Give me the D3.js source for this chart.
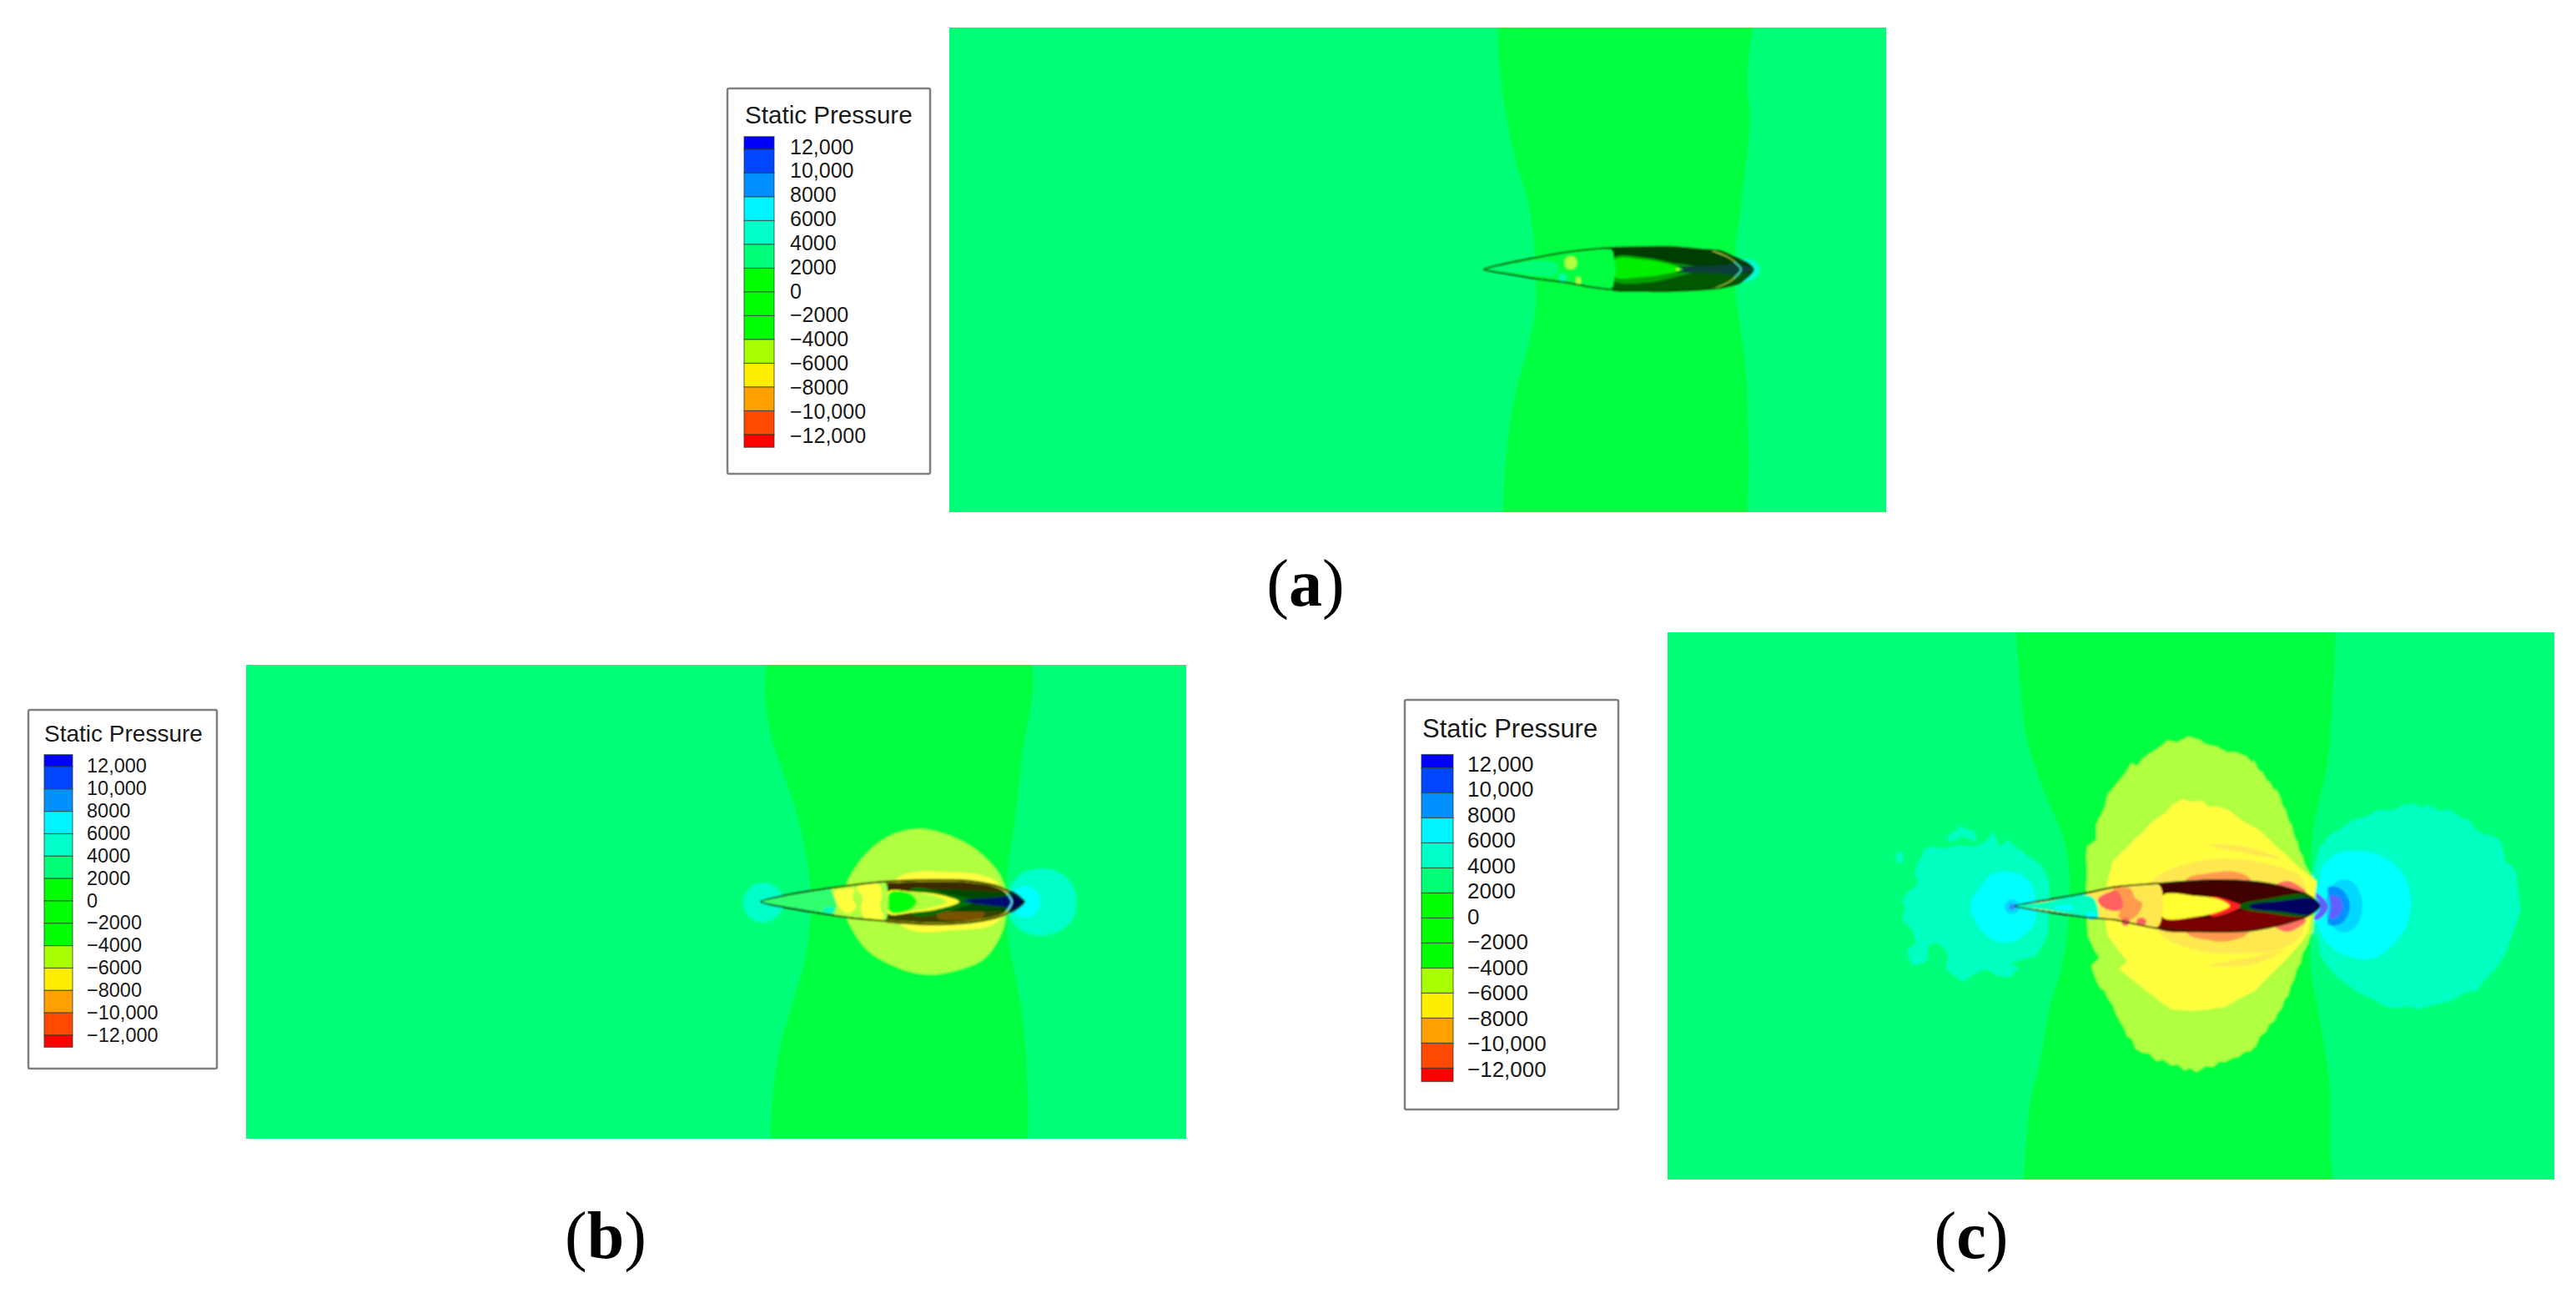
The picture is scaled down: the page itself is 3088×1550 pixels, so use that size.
<!DOCTYPE html>
<html>
<head>
<meta charset="utf-8">
<script src="https://cdn.jsdelivr.net/npm/d3@7"></script>
<style>
  html, body { margin: 0; background: #fff; }
  svg { display: block; }
</style>
</head>
<body>
<svg width="3088" height="1550"></svg>
<script>
// legend values
var legendEdges = [13070, 12000, 10000, 8000, 6000, 4000, 2000, 0, -2000, -4000, -6000, -8000, -10000, -12000, -13070];
var legendTicks = [12000, 10000, 8000, 6000, 4000, 2000, 0, -2000, -4000, -6000, -8000, -10000, -12000];
var legendLabels = ["12,000", "10,000", "8000", "6000", "4000", "2000", "0", "\u22122000", "\u22124000", "\u22126000", "\u22128000", "\u221210,000", "\u221212,000"];
var legendColors = ["#0000ff", "#0046ff", "#0090ff", "#00f4ff", "#00ffc8", "#00ff78", "#00ff00", "#00ff00", "#00ff00", "#a8ff00", "#ffee00", "#ffa000", "#ff4800", "#ff0000"];
var captions = ["a", "b", "c"];

// contour outlines: [distance behind the nose, offset from the axis]
var aBandLeft = [[16,-300],[16,-290],[20,-227],[26,-187],[37,-133],[51,-87],[59,-40],[61,0],[62,27],[61,53],[51,100],[37,150],[26,227],[23,291],[23,300]];
var aBandRight = [[322,-300],[322,-290],[317,-253],[316,-210],[319,-187],[314,-127],[306,-60],[302,-33],[301,0],[302,33],[309,80],[314,123],[317,227],[316,291],[316,300]];
var aTailGlow = [[306,-11],[320,-11],[328,-5],[331,0],[328,6],[320,13],[306,14]];
var aHull = [[0,0],[27,-7],[61,-14],[94,-20],[127,-24],[152,-26],[194,-27],[227,-27],[261,-24],[284,-22],[304,-13],[317,-7],[323,0],[317,8],[304,17],[277,23],[227,26],[194,26],[152,24],[127,21],[94,15],[61,11],[27,5]];
var aLower = [[154,10],[200,11],[240,3],[300,3],[317,7],[304,17],[277,23],[227,26],[194,26],[152,24]];
var aHalo = [[155,-14],[195,-14],[225,-8],[262,-1],[225,10],[195,16],[155,13]];
var aCavity = [[157,-12],[190,-12],[215,-8],[238,0],[215,6],[190,9],[157,9]];
var aStreak = [[225,-2],[270,-4],[305,-6],[322,0],[305,6],[270,4],[225,2]];
var aNose = [[0,0],[27,-7],[61,-14],[94,-20],[127,-24],[152,-24],[156,-12],[158,0],[156,12],[152,23],[127,20],[94,14],[61,10],[27,5]];
var aNoseCore = [[6,0],[27,-5],[61,-10],[85,-8],[89,0],[85,7],[61,7],[27,3]];
var aArcEnds = [[272,-23],[292,-15],[302,-8]];
var aArcEnds2 = [[272,24],[292,16],[302,9]];
var aArcMid = [[300,-9],[308,0],[300,10]];
var aBlobs = [[104,-8,7.5,8],[113,14,3,5.5],[94,10,5,5],[232,0,2,1]];

var bBandLeft = [[6,-295],[6,-284],[5,-246],[12,-199],[28,-152],[45,-99],[55,-52],[59,-19],[60,4],[58,34],[52,74],[38,121],[23,174],[14,234],[12,284],[12,295]];
var bBandRight = [[325,-295],[325,-284],[327,-269],[325,-242],[315,-186],[305,-99],[297,-46],[295,0],[297,48],[307,98],[315,148],[320,234],[320,284],[320,295]];
var bRound = [[195,-87],[248,-69],[282,-39],[292,-19],[295,0],[290,34],[268,68],[232,83],[197,87],[162,78],[128,58],[105,24],[98,0],[103,-22],[125,-56],[155,-79]];
var bYellow = [[162,-27],[188,-36],[215,-36],[265,-32],[285,-22],[290,-9],[292,14],[275,29],[232,34],[188,36],[168,28],[155,14]];
var bTail = [[297,-12],[312,-33],[337,-40],[362,-33],[376,-15],[378,2],[376,18],[362,33],[337,41],[312,34],[297,14]];
var bHull = [[0,0],[48,-11],[102,-19],[148,-24],[202,-26],[248,-25],[282,-19],[298,-12],[316,0],[298,13],[282,19],[248,25],[202,27],[148,23],[105,19],[48,10]];
var bRimTop = [[148,-24],[202,-26],[248,-25],[282,-19],[298,-12]];
var bRimLow = [[148,23],[202,27],[248,25],[282,19],[298,13]];
var bTopStrip = [[153,-23],[202,-26],[248,-25],[282,-19],[300,-13],[282,-12],[248,-14],[202,-15],[153,-14]];
var bLowStrip = [[153,13],[212,13],[290,13],[282,19],[248,25],[202,27],[148,23]];
var bBrown = [[212,14],[250,12],[268,13],[265,20],[230,22],[212,20]];
var bHalo = [[180,-15],[230,-8],[255,0],[230,10],[180,15]];
var bCavityRim = [[152,-12],[182,-12],[212,-9],[238,0],[212,9],[182,13],[152,14]];
var bCavity = [[155,-11],[182,-11],[208,-7],[223,0],[208,6],[182,11],[155,12]];
var bCavityCore = [[155,-11],[178,-10],[187,0],[178,10],[155,12]];
var bStreak = [[242,-1],[282,-5],[303,-5],[303,6],[282,5]];
var bTip = [[300,-13],[316,0],[300,13],[303,0]];
var bNose = [[0,0],[48,-11],[102,-19],[148,-23],[152,-10],[153,0],[152,10],[148,22],[105,18],[48,9]];
var bNoseRear = [[85,-15],[102,-19],[148,-23],[152,-10],[153,0],[152,10],[148,22],[105,18],[88,15],[92,2]];
var bPatchOne = [[88,-12],[105,-16],[112,-15],[110,-3],[115,5],[105,14],[95,8],[90,0]];
var bPatchTwo = [[115,-17],[140,-22],[145,-10],[143,5],[147,20],[125,20],[120,8],[122,-5]];
var bArcEnds = [[266,-22],[288,-16],[296,-9]];
var bArcEnds2 = [[266,23],[288,17],[296,10]];
var bArcMid = [[295,-10],[301,0],[295,11]];
var bBlobs = [[3,1,24,24],[82,10,7,4]];
var bTailCore = [[317,0,18,19]];

var cBandLeft = [[2,-340],[2,-328],[7,-261],[15,-198],[38,-131],[58,-84],[65,-48],[65,-1],[63,36],[55,79],[42,122],[30,189],[19,234],[11,328],[11,340]];
var cBandRight = [[385,-340],[385,-328],[380,-226],[375,-169],[358,-93],[355,-43],[355,1],[355,74],[365,134],[377,207],[378,284],[381,328],[381,340]];
var cLeftAqua = [[42,-26],[37,-40],[32,-49],[20,-57],[8,-66],[0,-72],[-8,-79],[-18,-71],[-22,-82],[-27,-89],[-32,-80],[-38,-76],[-48,-71],[-66,-73],[-85,-69],[-96,-71],[-108,-69],[-112,-58],[-117,-49],[-120,-39],[-116,-31],[-118,-23],[-127,-18],[-135,-6],[-131,2],[-135,17],[-127,24],[-122,31],[-118,44],[-130,54],[-123,72],[-105,67],[-103,47],[-92,44],[-80,57],[-82,77],[-72,84],[-62,91],[-48,82],[-35,76],[-20,84],[-5,86],[5,74],[-5,69],[10,64],[25,61],[33,48],[40,34]];
var cLeftIsland = [[-83,-81],[-65,-96],[-48,-89],[-45,-76],[-62,-83],[-75,-76]];
var cLeftCyan = [[-53,-1],[-38,-26],[-28,-38],[-2,-40],[18,-29],[26,1],[22,24],[-8,44],[-35,34]];
var cTailAqua = [[358,-39],[365,-69],[378,-86],[390,-92],[405,-103],[420,-107],[438,-116],[450,-114],[465,-121],[478,-123],[487,-118],[495,-121],[510,-114],[522,-116],[535,-106],[545,-103],[553,-92],[562,-86],[574,-84],[582,-79],[586,-66],[588,-53],[597,-48],[602,-39],[603,-20],[607,4],[600,26],[592,47],[588,58],[578,74],[569,84],[562,90],[555,101],[540,104],[525,113],[512,117],[498,120],[485,124],[470,120],[458,123],[445,121],[430,112],[412,104],[398,94],[385,84],[375,72],[367,61],[362,34],[345,33],[345,-33]];
var cTailCyan = [[352,-15],[365,-26],[368,-46],[388,-63],[412,-66],[438,-61],[462,-43],[475,-9],[468,27],[445,54],[425,64],[392,57],[372,41],[362,21],[352,15]];
var cTailBlue = [[376,-22],[385,-23],[395,-17],[402,0],[396,17],[386,23],[376,22],[378,0]];
var cTailViolet = [[378,-12],[388,-11],[393,0],[388,12],[378,15],[380,0]];
var cTailCrescent = [[358,-16],[365,-14],[376,1],[365,16],[358,16],[367,1]];
var cRound = [[87,-71],[98,-79],[98,-98],[108,-118],[112,-134],[118,-141],[132,-158],[140,-171],[147,-168],[155,-178],[175,-191],[183,-198],[195,-196],[208,-203],[222,-199],[228,-194],[242,-191],[255,-184],[266,-184],[278,-179],[284,-172],[287,-174],[292,-163],[297,-160],[302,-151],[306,-148],[310,-140],[314,-139],[318,-131],[321,-120],[325,-115],[328,-103],[332,-97],[335,-84],[339,-76],[341,-66],[345,-60],[348,-49],[353,-41],[357,-36],[362,-29],[358,31],[354,38],[351,47],[345,57],[343,68],[338,76],[335,88],[331,95],[328,107],[323,113],[320,123],[315,128],[312,137],[305,142],[301,151],[294,156],[289,168],[282,174],[275,175],[268,181],[262,182],[252,187],[246,186],[238,193],[229,192],[218,199],[210,194],[204,197],[196,190],[188,191],[178,184],[170,186],[162,177],[154,176],[145,171],[141,160],[135,156],[131,146],[125,136],[121,128],[118,119],[112,111],[108,102],[102,97],[98,89],[92,72],[102,62],[97,55],[93,47],[88,36],[87,20],[86,10],[87,-1],[86,-20],[87,-40],[86,-58]];
var cYellow = [[108,-11],[112,-32],[118,-54],[130,-66],[145,-81],[155,-90],[165,-101],[180,-111],[190,-122],[202,-128],[212,-125],[225,-126],[232,-119],[245,-119],[258,-114],[268,-106],[278,-99],[292,-92],[303,-82],[312,-73],[325,-62],[338,-49],[350,-39],[362,-29],[352,32],[342,46],[332,57],[320,70],[305,84],[288,102],[272,110],[252,121],[232,124],[212,126],[188,124],[175,115],[165,107],[158,102],[142,89],[125,76],[135,66],[122,50],[112,36],[108,16]];
var cPale = [[165,-29],[222,-54],[272,-56],[325,-44],[345,-33],[345,32],[322,51],[272,57],[222,54],[172,31]];
var cStreakUp = [[232,-73],[272,-72],[322,-56],[272,-64]];
var cStreakLow = [[232,71],[282,62],[322,54],[282,71]];
var cOrange = [[205,-31],[232,-39],[265,-41],[283,-31],[283,29],[258,42],[232,41],[205,31]];
var cPinkTop = [[312,-24],[328,-30],[350,-16],[330,-15]];
var cPinkLow = [[312,24],[328,31],[350,17],[330,15]];
var cHull = [[0,0],[38,-7],[88,-16],[122,-23],[172,-27],[238,-31],[288,-29],[322,-23],[352,-13],[366,0],[352,12],[322,22],[288,29],[238,31],[172,27],[122,17],[88,14],[38,7]];
var cLowStrip = [[172,14],[240,14],[270,6],[352,12],[322,22],[288,29],[238,31],[172,27]];
var cRed = [[235,-10],[265,-4],[273,0],[265,5],[235,12]];
var cCavity = [[178,-13],[218,-12],[245,-8],[258,0],[245,7],[218,13],[178,14]];
var cGreen = [[270,-1],[300,-8],[352,-13],[358,0],[352,11],[300,8],[270,2]];
var cNavy = [[282,-1],[320,-6],[355,-9],[366,0],[355,10],[320,7],[282,2]];
var cNose = [[0,0],[38,-6],[88,-15],[122,-22],[172,-26],[178,0],[170,26],[122,17],[88,13],[38,6]];
var cNoseAqua = [[0,0],[38,-5],[80,-14],[95,-9],[100,4],[100,15],[80,12],[38,5]];
var cPatchOrange = [[118,-19],[138,-21],[145,-9],[153,-3],[147,11],[137,17],[125,14],[127,1]];
var cPatchPink = [[100,-8],[112,-16],[123,-18],[130,1],[122,6],[105,1]];
var cBlobs = [[133,19,5,5],[152,19,6,5]];
var cAquaBits = [[60,2,12,3.5],[92,12,6,5]];
var cSmallIsland = [[-138,-58,5,7]];
var cRingSky = [[395,0,22,32]];
var cNoseDot = [[-3,1,9,9]];
var cNoseDotCore = [[-3,1,4,4]];

var svg = d3.select("svg");
var smooth = d3.curveCatmullRomClosed.alpha(0.5);
var sharp = d3.curveLinearClosed;

var defs = svg.append("defs");
defs.append("filter").attr("id", "soft")
  .attr("filterUnits", "userSpaceOnUse").attr("x", 0).attr("y", 0).attr("width", 3088).attr("height", 1550)
  .append("feGaussianBlur").attr("stdDeviation", 0.9);

function makePanel(id, box) {
  // field position of the nose is the scale's zero
  var xScale = d3.scaleLinear().domain([box.left - box.noseX, box.right - box.noseX]).range([box.left, box.right]);
  var yScale = d3.scaleLinear().domain([box.top - box.noseY, box.bottom - box.noseY]).range([box.top, box.bottom]);

  defs.append("clipPath").attr("id", "clip-" + id).append("rect")
    .attr("x", box.left).attr("y", box.top).attr("width", box.right - box.left).attr("height", box.bottom - box.top);

  var root = svg.append("g").attr("clip-path", "url(#clip-" + id + ")");
  root.append("rect")
    .attr("x", box.left).attr("y", box.top).attr("width", box.right - box.left).attr("height", box.bottom - box.top)
    .style("fill", "#00ff78");
  var g = root.append("g").attr("filter", "url(#soft)");

  return {
    area: function (pts, color, curve) {
      g.append("path")
        .attr("d", d3.line().x(function (d) { return xScale(d[0]); }).y(function (d) { return yScale(d[1]); }).curve(curve || smooth)(pts))
        .style("fill", color);
    },
    band: function (left, right) {
      this.area(left.concat(right.slice().reverse()), "#00ff40", d3.curveCatmullRomClosed.alpha(0.5));
    },
    blobs: function (rows, color) {
      g.selectAll(null).data(rows).enter().append("ellipse")
        .attr("cx", function (d) { return xScale(d[0]); })
        .attr("cy", function (d) { return yScale(d[1]); })
        .attr("rx", function (d) { return xScale(d[2]) - xScale(0); })
        .attr("ry", function (d) { return yScale(d[3]) - yScale(0); })
        .style("fill", color);
    },
    outline: function (pts, color, w) {
      g.append("path")
        .attr("d", d3.line().x(function (d) { return xScale(d[0]); }).y(function (d) { return yScale(d[1]); }).curve(d3.curveCardinalClosed.tension(0.3))(pts))
        .style("fill", "none").style("stroke", color).style("stroke-width", w);
    },
    arc: function (pts, color, w) {
      g.append("path")
        .attr("d", d3.line().x(function (d) { return xScale(d[0]); }).y(function (d) { return yScale(d[1]); }).curve(d3.curveCatmullRom)(pts))
        .style("fill", "none").style("stroke", color).style("stroke-width", w);
    }
  };
}

function hullCurve() { return d3.curveCardinalClosed.tension(0.3); }

// Panel (a)
var pa = makePanel("a", {left: 1138, right: 2261, top: 33, bottom: 614, noseX: 1779, noseY: 323});
pa.band(aBandLeft, aBandRight);
pa.area(aTailGlow, "#00ffd8");
pa.area(aHull, "#003c00", hullCurve());
pa.area(aLower, "#005800");
pa.area(aHalo, "#00a000");
pa.area(aStreak, "#0c3c3c");
pa.area(aCavity, "#00f000");
pa.area(aNose, "#00ff40", hullCurve());
pa.area(aNoseCore, "#00ff78");
pa.blobs(aBlobs.slice(0, 2), "#b0ff40");
pa.blobs(aBlobs.slice(2, 3), "#00ffa8");
pa.blobs(aBlobs.slice(3), "#f0f040");
pa.arc(aArcEnds, "#a8d040", 1.4);
pa.arc(aArcEnds2, "#a8d040", 1.4);
pa.arc(aArcMid, "#40d8b0", 2);
pa.outline(aHull, "#0f4a08", 2);

// Panel (b)
var pb = makePanel("b", {left: 295, right: 1422, top: 797, bottom: 1365, noseX: 912, noseY: 1081});
pb.band(bBandLeft, bBandRight);
pb.area(bTail, "#00ffc8");
pb.blobs(bBlobs.slice(0, 1), "#00ffc8");
pb.blobs(bTailCore, "#00ffff");
pb.area(bRound, "#b0ff40");
pb.area(bYellow, "#ffff40");
pb.area(bHull, "#004800", hullCurve());
pb.area(bTopStrip, "#3a2c00");
pb.area(bLowStrip, "#3a4000");
pb.area(bBrown, "#7a5200");
pb.area(bHalo, "#007000");
pb.area(bCavityRim, "#ffff30");
pb.area(bCavity, "#b0ff40");
pb.area(bCavityCore, "#00ff10");
pb.area(bStreak, "#001070");
pb.area(bTip, "#000050");
pb.area(bNose, "#30ff70", hullCurve());
pb.area(bNoseRear, "#b0ff40");
pb.area(bPatchOne, "#ffff40");
pb.area(bPatchTwo, "#ffff40");
pb.blobs(bBlobs.slice(1), "#00ffc0");
pb.arc(bRimTop, "#d8d020", 3.4);
pb.arc(bRimLow, "#d8d020", 3.4);
pb.arc(bArcEnds, "#c8c840", 1.6);
pb.arc(bArcEnds2, "#c8c840", 1.6);
pb.arc(bArcMid, "#60e8f0", 2);
pb.outline(bHull, "#183000", 2);

// Panel (c)
var pc = makePanel("c", {left: 1999, right: 3062, top: 758, bottom: 1414, noseX: 2415, noseY: 1086});
pc.band(cBandLeft, cBandRight);
pc.area(cLeftAqua, "#00ffc0", sharp);
pc.area(cLeftIsland, "#00ffc0", sharp);
pc.blobs(cSmallIsland, "#00ffc0");
pc.area(cLeftCyan, "#00ffff");
pc.blobs(cNoseDot, "#00d8ff");
pc.blobs(cNoseDotCore, "#3090ff");
pc.area(cTailAqua, "#00ffc0", sharp);
pc.area(cTailCyan, "#00ffff");
pc.blobs(cRingSky, "#00d8ff");
pc.area(cTailBlue, "#0090ff");
pc.area(cTailViolet, "#6060ff");
pc.area(cTailCrescent, "#6060ff");
pc.area(cRound, "#b0ff40", sharp);
pc.area(cYellow, "#ffff40", sharp);
pc.area(cPale, "#ffe850");
pc.area(cStreakUp, "#ffe850");
pc.area(cStreakLow, "#ffe850");
pc.area(cOrange, "#ff9a50");
pc.area(cPinkTop, "#ff7060");
pc.area(cPinkLow, "#ff7060");
pc.area(cHull, "#400000", hullCurve());
pc.area(cLowStrip, "#7a0000");
pc.area(cRed, "#ff2020");
pc.area(cCavity, "#ffff30");
pc.area(cGreen, "#006000");
pc.area(cNavy, "#000060");
pc.area(cNose, "#ffe850", hullCurve());
pc.area(cNoseAqua, "#00ffc0");
pc.blobs(cAquaBits, "#00ffff");
pc.area(cPatchOrange, "#ff9a50");
pc.area(cPatchPink, "#ff6060");
pc.blobs(cBlobs, "#ff6060");
pc.outline(cHull, "#102000", 1.8);

// legends
function drawLegend(box) {
  var g = svg.append("g");
  var yScale = d3.scaleLinear().domain([12000, -12000]).range([box.y12, box.yMinus12]);
  var labelScale = d3.scaleLinear().domain([12000, -12000]).range([box.label12, box.labelMinus12]);

  g.append("rect")
    .attr("x", box.left).attr("y", box.top).attr("width", box.right - box.left).attr("height", box.bottom - box.top)
    .attr("rx", 2)
    .style("fill", "#fff").style("stroke", "#808080").style("stroke-width", 2.5);

  g.append("text")
    .attr("x", box.titleX).attr("y", box.titleY)
    .style("font-family", "Liberation Sans").style("font-size", box.titleSize + "px").style("fill", "#1a1a1a")
    .text("Static Pressure");

  g.selectAll(null).data(legendColors).enter().append("rect")
    .attr("x", box.swatchLeft)
    .attr("width", box.swatchRight - box.swatchLeft)
    .attr("y", function (d, i) { return yScale(legendEdges[i]); })
    .attr("height", function (d, i) { return yScale(legendEdges[i + 1]) - yScale(legendEdges[i]); })
    .style("fill", function (d) { return d; })
    .style("stroke", "#2a3a2a").style("stroke-opacity", 0.65).style("stroke-width", 1.2);

  g.selectAll(null).data(legendTicks).enter().append("text")
    .attr("x", box.labelX)
    .attr("y", function (d) { return labelScale(d); })
    .attr("dy", "0.3em")
    .style("font-family", "Liberation Sans").style("font-size", box.labelSize + "px").style("fill", "#1a1a1a")
    .text(function (d, i) { return legendLabels[i]; });
}

drawLegend({left: 872, right: 1115, top: 106, bottom: 568, titleX: 893, titleY: 148, titleSize: 29.6,
  swatchLeft: 892, swatchRight: 928, y12: 179, yMinus12: 521, label12: 177, labelMinus12: 523, labelX: 947, labelSize: 25});
drawLegend({left: 34, right: 260, top: 851, bottom: 1281, titleX: 53, titleY: 889, titleSize: 28,
  swatchLeft: 53, swatchRight: 87, y12: 919, yMinus12: 1241, label12: 919, labelMinus12: 1242, labelX: 104, labelSize: 23.5});
drawLegend({left: 1684, right: 1940, top: 839, bottom: 1330, titleX: 1705, titleY: 884, titleSize: 31,
  swatchLeft: 1704, swatchRight: 1742, y12: 920.5, yMinus12: 1280.5, label12: 917, labelMinus12: 1283, labelX: 1759, labelSize: 26});

// captions
var captionX = d3.scaleOrdinal().domain(captions).range([1565, 726, 2363]);
var captionY = d3.scaleOrdinal().domain(captions).range([726, 1508, 1508]);
captions.forEach(function (c) {
  var t = svg.append("text")
    .attr("x", captionX(c)).attr("y", captionY(c))
    .attr("text-anchor", "middle")
    .style("font-family", "Liberation Serif").style("font-size", "80px").style("fill", "#000");
  t.append("tspan").text("(");
  t.append("tspan").style("font-weight", "bold").text(c);
  t.append("tspan").text(")");
});
</script>
</body>
</html>
